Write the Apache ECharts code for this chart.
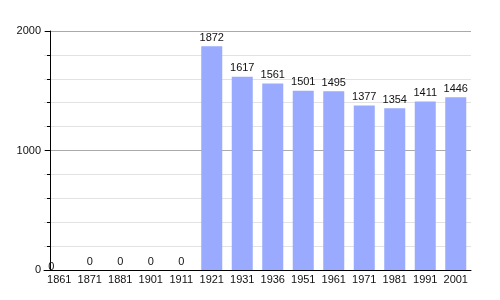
<!DOCTYPE html>
<html><head><meta charset="utf-8">
<script src="https://cdn.jsdelivr.net/npm/echarts@6/dist/echarts.min.js"></script>
<style>html,body{margin:0;padding:0;background:#fff}#c{width:500px;height:300px}</style>
</head><body><div id="c"></div>
<script>
const years = ['1861','1871','1881','1901','1911','1921','1931','1936','1951','1961','1971','1981','1991','2001'];
const population = [0,0,0,0,0,1872,1617,1561,1501,1495,1377,1354,1411,1446];
const yTicks = [0, 1000, 2000];

const chart = echarts.init(document.getElementById('c'), null, {renderer:'canvas'});
const font = 'Liberation Sans, Arial, sans-serif';
chart.setOption({
  animation:false,
  grid:{left:44, right:29, top:31, bottom:30, containLabel:false},
  xAxis:{
    type:'category', data:years, boundaryGap:true,
    axisLine:{lineStyle:{color:'#000', width:1}},
    axisTick:{show:false},
    axisLabel:{color:'#111', fontSize:11, fontFamily:font, margin:4, interval:0}
  },
  yAxis:{
    type:'value', min:yTicks[0], max:yTicks[yTicks.length-1], interval:1000, offset:-6,
    axisLine:{show:true, lineStyle:{color:'#000', width:1}},
    axisTick:{show:true, length:5, lineStyle:{color:'#000'}},
    minorTick:{show:true, splitNumber:5, length:3, lineStyle:{color:'#000'}},
    axisLabel:{color:'#111', fontSize:11, fontFamily:font, margin:9, formatter:v=>String(v)},
    splitLine:{show:true, lineStyle:{color:'#aaaaaa', width:1}},
    minorSplitLine:{show:true, lineStyle:{color:'#e2e2e2', width:1}}
  },
  series:[{
    type:'bar', barWidth:21,
    data: population.map((v,i)=> i===0 ? {value:v, label:{offset:[-8,5]}} : v),
    itemStyle:{color:'#99aaff'},
    label:{show:true, position:'top', distance:3, color:'#111', fontSize:11, fontFamily:font}
  }]
});
</script></body></html>
